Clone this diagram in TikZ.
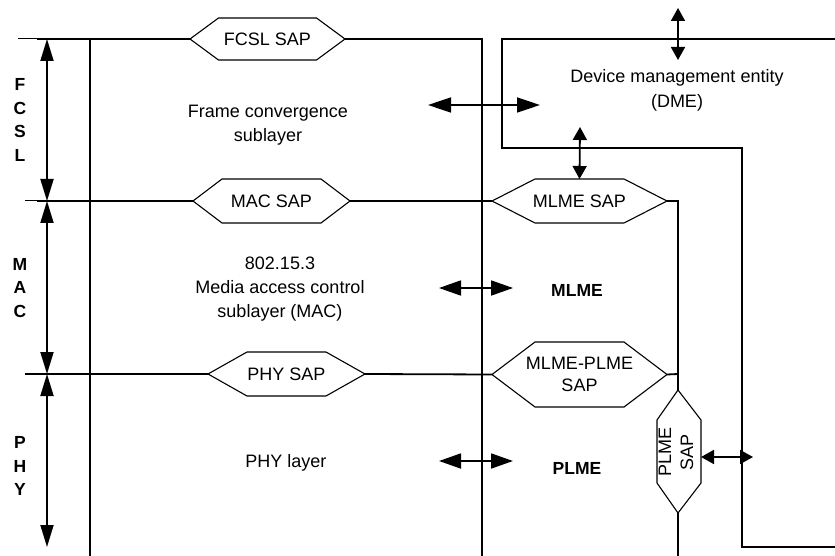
\documentclass[tikz,border=0pt]{standalone}
\usepackage{fontspec}
\setmainfont{Liberation Sans}
\usetikzlibrary{arrows.meta}
\newcommand\hexnode[7]{% name, cx, cy, half width, half height, slant, text
  \draw[hexline] (#2-#4,#3) -- (#2-#4+#6,#3-#5) -- (#2+#4-#6,#3-#5) -- (#2+#4,#3)
     -- (#2+#4-#6,#3+#5) -- (#2-#4+#6,#3+#5) -- cycle;
  \node[lbl] (#1) at (#2,#3) {#7};
  \coordinate (#1-w) at (#2-#4,#3);
  \coordinate (#1-e) at (#2+#4,#3);
  \coordinate (#1-n) at (#2,#3-#5);
}
\begin{document}
\begin{tikzpicture}[x=1pt,y=-1pt,
  wire/.style={line width=1.8pt},
  thinwire/.style={line width=1pt},
  hexline/.style={line width=1.1pt, fill=white, line join=miter},
  lbl/.style={font=\fontsize{18}{22}\selectfont, align=center, inner sep=0pt},
  blbl/.style={font=\bfseries\fontsize{17.5}{23.5}\selectfont, align=center, inner sep=0pt},
  bigarrow/.style={line width=1.8pt, {Triangle[length=22pt,width=14pt]}-{Triangle[length=22pt,width=14pt]}},
  smallarrow/.style={line width=1.8pt, {Triangle[length=13pt,width=14pt]}-{Triangle[length=13pt,width=14pt]}},
]
\useasboundingbox (0,0) rectangle (835,556);

% named coordinates
\coordinate (tl0) at (18,39);
\coordinate (tl1) at (37,39);
\coordinate (ml0) at (25,201);
\coordinate (ml1) at (37,201);
\coordinate (pl0) at (25,374);
\coordinate (lv-top) at (90,39);
\coordinate (lv-bot) at (90,556);
\coordinate (cv-top) at (482,39);
\coordinate (cv-bot) at (482,556);
\coordinate (rv-a) at (678,201);
\coordinate (rv-b) at (678,374);
\coordinate (rv-bot) at (678,556);
\coordinate (d1) at (835,39);
\coordinate (d2) at (502,39);
\coordinate (d3) at (502,148);
\coordinate (d4) at (742,148);
\coordinate (d5) at (742,547);
\coordinate (d6) at (835,547);
\coordinate (la0) at (47,39);
\coordinate (la1) at (47,201);
\coordinate (la2) at (47,374);
\coordinate (la3) at (47,547);

% hexagons
\hexnode{fcsl}{267.5}{39}{77.5}{21}{28.5}{FCSL SAP}
\hexnode{mac}{271.5}{201}{78.5}{22}{29}{MAC SAP}
\hexnode{phy}{286.5}{374}{78.5}{22}{39}{PHY SAP}
\hexnode{mlme}{579.5}{201}{87.5}{22}{43}{MLME SAP}
\hexnode{mp}{579.5}{374.5}{87.5}{32.5}{43}{MLME-PLME\\SAP}

% vertical PLME SAP
\draw[hexline] (678,390) -- (701,420) -- (701,483) -- (678,513) -- (657,483) -- (657,420) -- cycle;
\node[lbl, rotate=90] (plmesap) at (676,452) {PLME\\SAP};
\coordinate (ps-n) at (678,390);
\coordinate (ps-s) at (678,513);
\coordinate (ps-e) at (701,457);

% wires
\draw[thinwire] (tl0) -- (tl1);
\draw[wire] (tl1) -- (fcsl-w);
\draw[wire] (fcsl-e) -- (cv-top) -- (cv-bot);
\draw[wire] (lv-top) -- (lv-bot);
\draw[thinwire] (ml0) -- (ml1);
\draw[wire] (ml1) -- (mac-w);
\draw[wire] (mac-e) -- (mlme-w);
\draw[wire] (mlme-e) -- (rv-a) -- (ps-n);
\draw[wire] (pl0) -- (phy-w);
\draw[wire] (phy-e) -- (mp-w);
\draw[wire] (mp-e) -- (rv-b);
\draw[wire] (ps-s) -- (rv-bot);
\draw[wire] (d1) -- (d2) -- (d3) -- (d4) -- (d5) -- (d6);

% layer arrows
\draw[bigarrow, {Triangle[length=22pt,width=13pt]}-{Triangle[length=22pt,width=13pt]}] (la0) -- (la1);
\draw[bigarrow, {Triangle[length=22pt,width=13pt]}-{Triangle[length=22pt,width=13pt]}] (la1) -- (la2);
\draw[bigarrow, {Triangle[length=22pt,width=13pt]}-{Triangle[length=22pt,width=13pt]}] (la2) -- (la3);

% side letters
\node[blbl] (fcsltxt) at (20,120) {F\\C\\S\\L};
\node[blbl] (mactxt) at (20,288) {M\\A\\C};
\node[blbl] (phytxt) at (20,466) {P\\H\\Y};

% layer texts
\node[lbl, font=\fontsize{18}{24}\selectfont] (fcsl-l) at (268,125) {Frame convergence\\sublayer};
\node[lbl, font=\fontsize{18}{24}\selectfont] (mac-l) at (280,289) {802.15.3\\Media access control\\sublayer (MAC)};
\node[lbl] (phy-l) at (286,463) {PHY layer};
\node[lbl, font=\fontsize{18}{25}\selectfont] (dme) at (677,90) {Device management entity\\(DME)};
\node[blbl] (mlmetxt) at (577,290) {MLME};
\node[blbl] (plmetxt) at (577,468) {PLME};

% management arrows
\coordinate (a1a) at (678,8);
\coordinate (a1b) at (678,60);
\draw[smallarrow] (a1a) -- (a1b);
\coordinate (a2a) at (428,105);
\coordinate (a2b) at (540,105);
\draw[bigarrow, {Triangle[length=23pt,width=15pt]}-{Triangle[length=23pt,width=15pt]}] (a2a) -- (a2b);
\coordinate (a3a) at (580,127);
\draw[smallarrow] (a3a) -- (mlme-n);
\coordinate (a4a) at (439,288);
\coordinate (a4b) at (513,288);
\draw[bigarrow, {Triangle[length=22pt,width=15pt]}-{Triangle[length=22pt,width=15pt]}] (a4a) -- (a4b);
\coordinate (a5a) at (439,461);
\coordinate (a5b) at (513,461);
\draw[bigarrow, {Triangle[length=22pt,width=15pt]}-{Triangle[length=22pt,width=15pt]}] (a5a) -- (a5b);
\coordinate (a6b) at (753,457);
\draw[smallarrow] (ps-e) -- (a6b);
\end{tikzpicture}
\end{document}
